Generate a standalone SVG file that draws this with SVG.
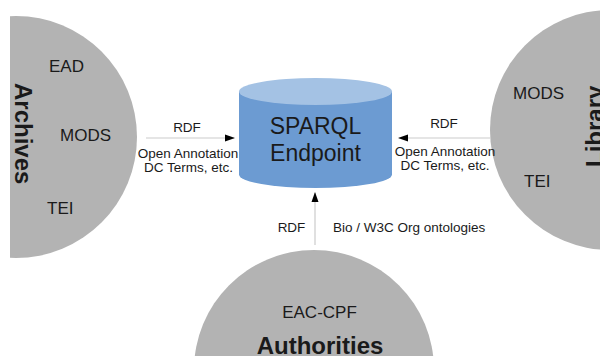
<svg xmlns="http://www.w3.org/2000/svg" width="600" height="356" viewBox="0 0 600 356">
<style>
.src{fill:#b3b3b3}
.t{font-family:"Liberation Sans",Arial,sans-serif;fill:#1a1a1a}
.lbl{font-size:17px}
.big{font-size:24px;font-weight:bold}
.sm{font-size:13.5px}
.c{text-anchor:middle}
.ln{stroke:#cccccc;stroke-width:1.2;fill:none}
</style>
<defs>
<marker id="ah" markerWidth="10" markerHeight="8" refX="9" refY="4" orient="auto" markerUnits="userSpaceOnUse">
<path d="M0,0.5 L10,4 L0,7.5 Z" fill="#000"/>
</marker>
<clipPath id="clipA"><rect x="10" y="0" width="600" height="356"/></clipPath>
</defs>
<rect width="600" height="356" fill="#fff"/>
<g id="archives">
<circle class="src" cx="16" cy="137" r="121" clip-path="url(#clipA)"/>
<text class="t big" transform="translate(15,83) rotate(90)" font-size="23.5">Archives</text>
<text class="t lbl" x="49" y="72">EAD</text>
<text class="t lbl" x="60" y="141">MODS</text>
<text class="t lbl" x="47" y="214">TEI</text>
</g>
<g id="library">
<circle class="src" cx="610" cy="130" r="120"/>
<text class="t big" transform="translate(603,167) rotate(-90)">Library</text>
<text class="t lbl" x="513" y="99">MODS</text>
<text class="t lbl" x="524" y="187">TEI</text>
</g>
<g id="authorities">
<circle class="src" cx="314" cy="370" r="120"/>
<text class="t lbl c" x="319.5" y="318">EAC-CPF</text>
<text class="t big c" x="320" y="354">Authorities</text>
</g>
<g id="sparql">
<path d="M239,91.5 V174.5 A76.5,13.5 0 0 0 392,174.5 V91.5 Z" fill="#6c9bd2"/>
<ellipse cx="315.5" cy="91.5" rx="76.5" ry="13.5" fill="#a4c2e4"/>
<text class="t c" x="315.5" y="134" font-size="23">SPARQL</text>
<text class="t c" x="315.5" y="161" font-size="23">Endpoint</text>
</g>
<g id="connectors">
<line class="ln" x1="146" y1="138" x2="234" y2="138" marker-end="url(#ah)"/>
<line class="ln" x1="490" y1="138" x2="399" y2="138" marker-end="url(#ah)"/>
<line class="ln" x1="315" y1="245" x2="315" y2="193" marker-end="url(#ah)"/>
<text class="t sm c" x="187" y="132">RDF</text>
<text class="t sm c" x="188" y="158">Open Annotation</text>
<text class="t sm c" x="188.5" y="172">DC Terms, etc.</text>
<text class="t sm c" x="444" y="127.5">RDF</text>
<text class="t sm c" x="445" y="156">Open Annotation</text>
<text class="t sm c" x="445" y="170">DC Terms, etc.</text>
<text class="t sm c" x="291.5" y="232">RDF</text>
<text class="t sm" x="333" y="232">Bio / W3C Org ontologies</text>
</g>
</svg>
